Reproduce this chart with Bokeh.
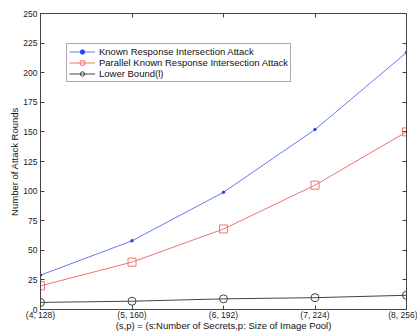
from bokeh.plotting import figure
from bokeh.models import FixedTicker, LinearAxis, Legend, LegendItem, Range1d
from bokeh.embed import file_html
from bokeh.resources import INLINE

categories = ["(4, 128)", "(5, 160)", "(6, 192)", "(7, 224)", "(8, 256)"]
known = [29, 58, 99, 152, 217]
parallel = [20, 40, 68, 105, 150]
lower = [6, 7, 9, 10, 12]
yticks = [0, 25, 50, 75, 100, 125, 150, 175, 200, 225, 250]

xs = list(range(len(categories)))
FONT = "Liberation Sans"

p = figure(frame_width=366, frame_height=296, output_backend="svg", toolbar_location=None,
           x_range=Range1d(0, len(categories) - 1), y_range=Range1d(0, 250),
           min_border_left=40, min_border_right=11, min_border_top=13, min_border_bottom=25)
p.grid.visible = False
p.outline_line_color = "#444444"
p.outline_line_width = 1

p.xaxis.ticker = FixedTicker(ticks=xs)
p.xaxis.major_label_overrides = {i: c for i, c in enumerate(categories)}
p.yaxis.ticker = FixedTicker(ticks=yticks)
p.xaxis.axis_label = "(s,p) = (s:Number of Secrets,p: Size of Image Pool)"
p.yaxis.axis_label = "Number of Attack Rounds"
for ax in [p.xaxis[0], p.yaxis[0]]:
    ax.major_tick_in = 4
    ax.major_tick_out = 0
    ax.minor_tick_in = 0
    ax.minor_tick_out = 0
    ax.axis_line_color = "#444444"
    ax.major_tick_line_color = "#444444"
    ax.major_label_text_font = FONT
    ax.major_label_text_font_size = "8.5px"
    ax.major_label_text_color = "#222222"
    ax.axis_label_text_font = FONT
    ax.axis_label_text_font_size = "9.5px"
    ax.axis_label_text_font_style = "normal"
    ax.axis_label_text_color = "#111111"
p.xaxis.major_label_standoff = 0
p.xaxis.axis_label_standoff = -3
p.yaxis.major_label_standoff = 3
p.yaxis.axis_label_standoff = 0

blank_y = {t: "" for t in yticks}
blank_x = {t: "" for t in xs}
right = LinearAxis(ticker=FixedTicker(ticks=yticks), major_label_overrides=blank_y,
                   major_label_standoff=0, major_label_text_font_size="1px",
                   major_tick_in=4, major_tick_out=0, minor_tick_in=0, minor_tick_out=0,
                   axis_line_color="#444444", major_tick_line_color="#444444")
top = LinearAxis(ticker=FixedTicker(ticks=xs), major_label_overrides=blank_x,
                 major_label_standoff=0, major_label_text_font_size="1px",
                 major_tick_in=4, major_tick_out=0, minor_tick_in=0, minor_tick_out=0,
                 axis_line_color="#444444", major_tick_line_color="#444444")
p.add_layout(right, "right")
p.add_layout(top, "above")

r1 = p.line(xs, known, line_color="#6478f0", line_width=1)
r1m = p.scatter(xs, known, marker="circle", size=2.5, fill_color="#2a44f0", line_color="#2a44f0")
r2 = p.line(xs, parallel, line_color="#f07272", line_width=1)
r2m = p.scatter(xs, parallel, marker="square", size=8, fill_color=None, line_color="#f07272")
r3 = p.line(xs, lower, line_color="#444444", line_width=1)
r3m = p.scatter(xs, lower, marker="circle", size=8, fill_color=None, line_color="#444444")

legend = Legend(items=[
    LegendItem(label="Known Response Intersection Attack", renderers=[r1, r1m]),
    LegendItem(label="Parallel Known Response Intersection Attack", renderers=[r2, r2m]),
    LegendItem(label="Lower Bound(l)", renderers=[r3, r3m]),
], location=(26, 227))
legend.label_text_font = FONT
legend.label_text_font_size = "9.5px"
legend.label_text_color = "#111111"
legend.glyph_height = 11
legend.glyph_width = 26
legend.label_height = 11
legend.spacing = 0
legend.padding = 2
legend.margin = 0
legend.label_standoff = 4
legend.border_line_color = "#555555"
legend.border_line_width = 1
p.add_layout(legend, "center")

open("out.html", "w").write(file_html(p, INLINE))
